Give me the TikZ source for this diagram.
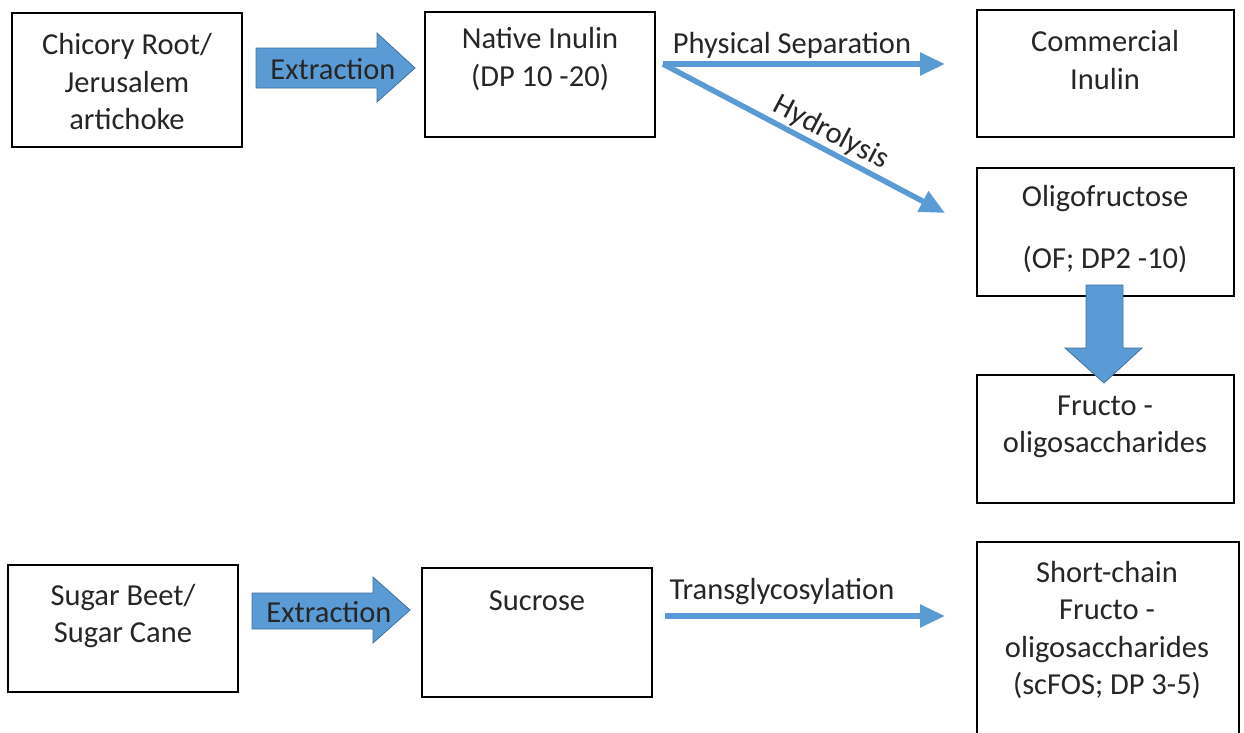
\documentclass[tikz,border=0pt]{standalone}
\usepackage{fontspec}
\setmainfont{Carlito}
\usetikzlibrary{arrows.meta}
\definecolor{obl}{HTML}{5B9BD5}
\definecolor{obd}{HTML}{41719C}
\begin{document}
\begin{tikzpicture}[x=1pt,y=-1pt,
  box/.style={draw=black,line width=2.6pt,fill=none},
  txt/.style={align=center,inner sep=0pt,font=\fontsize{30.5}{37.5}\selectfont,text=black!85},
  flow/.style={draw=obl,line width=5.5pt,-{Triangle[length=25pt,width=22pt]}},
  blk/.style={fill=obl,draw=obd,line width=0.8pt,line join=miter}]
\useasboundingbox (0,0) rectangle (1244,732);
\clip (0,0) rectangle (1244,732);
\fill[white] (0,0) rectangle (1244,732);
% boxes
\draw[box] (12,13) rectangle (242,147);
\coordinate (chicory) at (127,80);
\draw[box] (425,12) rectangle (655,137);
\draw[box] (977,10) rectangle (1234,137);
\draw[box] (977,168) rectangle (1234,296);
\draw[box] (977,375) rectangle (1234,503);
\draw[box] (8,565) rectangle (238,692);
\draw[box] (422,568) rectangle (652,697);
\draw[box] (977,542) rectangle (1239,760);
% texts
\node[txt] (tchic) at (127,82) {Chicory Root/\\Jerusalem\\artichoke};
\node[txt] (tnat) at (540,59) {Native Inulin\\(DP 10 -20)};
\node[txt] (tcom) at (1105,60) {Commercial\\Inulin};
\node[txt] (toli) at (1105,229) {Oligofructose\\[24pt](OF; DP2 -10)};
\node[txt] (tfos) at (1105,427) {Fructo -\\oligosaccharides};
\node[txt] (tbeet) at (123,616) {Sugar Beet/\\Sugar Cane};
\node[txt] (tsuc) at (537,601) {Sucrose};
\node[txt] (tsc) at (1107,630) {Short-chain\\Fructo -\\oligosaccharides\\(scFOS; DP 3-5)};
% block arrows
\draw[blk] (256,48) -- (377,48) -- (377,33) -- (415,68) -- (377,102) -- (377,88) -- (256,88) -- cycle;
\node[txt] (ext1) at (333,69) {Extraction};
\draw[blk] (252,593) -- (373,593) -- (373,577) -- (410,610) -- (373,643) -- (373,629) -- (252,629) -- cycle;
\node[txt] (ext2) at (329,612) {Extraction};
\draw[blk] (1086,285) -- (1123,285) -- (1123,348) -- (1142,348) -- (1104,383) -- (1065,348) -- (1086,348) -- cycle;
% thin arrows
\coordinate (split) at (663,64);
\coordinate (pend) at (945,64);
\coordinate (hend) at (945,213);
\coordinate (tstart) at (665,616);
\coordinate (tend) at (945,616);
\draw[flow] (split) -- (pend);
\draw[flow] (split) -- (hend);
\draw[flow] (tstart) -- (tend);
\node[txt] (lphys) at (792,45) {Physical Separation};
\node[txt,rotate=-27.7] (lhyd) at (831,133) {Hydrolysis};
\node[txt] (ltrans) at (782,592) {Transglycosylation};
\end{tikzpicture}
\end{document}
